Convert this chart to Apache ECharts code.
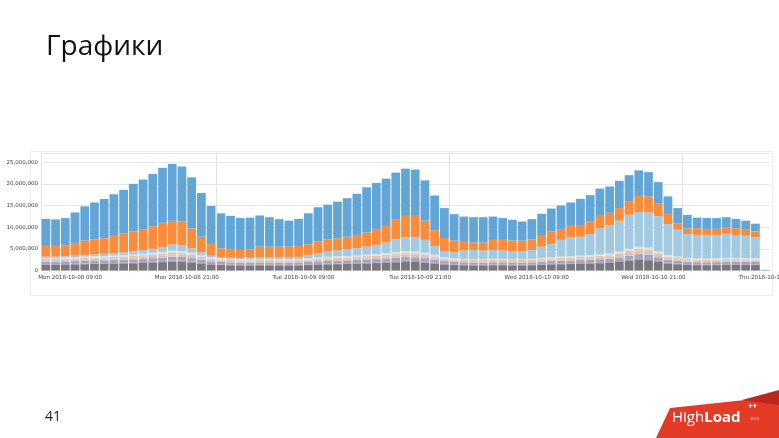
<!DOCTYPE html>
<html>
<head>
<meta charset="utf-8">
<script src="https://cdn.jsdelivr.net/npm/echarts@6/dist/echarts.min.js"></script>
<style>
html,body{margin:0;padding:0;background:#fff;}
#c{width:779px;height:438px;}
</style>
</head>
<body>
<div id="c"></div>
<script>
// Hours since Mon 2018-10-08 00:00 (each bar = one hour starting at that time)
const hours = [6,7,8,9,10,11,12,13,14,15,16,17,18,19,20,21,22,23,24,25,26,27,28,29,30,31,32,33,34,35,36,37,38,39,40,41,42,43,44,45,46,47,48,49,50,51,52,53,54,55,56,57,58,59,60,61,62,63,64,65,66,67,68,69,70,71,72,73,74,75,76,77,78,79,80];

// Values in millions
const greyDark = [1.3,1.3,1.35,1.4,1.45,1.5,1.52,1.56,1.62,1.67,1.76,1.85,1.94,2.07,2.03,1.85,1.58,1.35,1.26,1.2,1.17,1.17,1.19,1.19,1.17,1.17,1.19,1.26,1.35,1.42,1.46,1.51,1.58,1.64,1.71,1.8,1.91,2.0,1.98,1.85,1.62,1.4,1.26,1.22,1.19,1.19,1.22,1.22,1.19,1.19,1.22,1.3,1.4,1.44,1.49,1.55,1.6,1.69,1.76,1.98,2.25,2.45,2.38,1.98,1.62,1.44,1.3,1.24,1.22,1.24,1.3,1.3,1.28,1.26,0];
const purple = [.15,.15,.15,.15,.15,.15,.15,.16,.16,.17,.17,.18,.18,.2,.2,.18,.16,.15,.14,.13,.13,.13,.13,.13,.13,.13,.13,.14,.15,.15,.16,.16,.16,.17,.17,.18,.19,.2,.2,.18,.16,.15,.14,.13,.13,.13,.13,.13,.13,.13,.13,.14,.15,.15,.15,.16,.16,.17,.17,.19,.2,.22,.21,.19,.16,.15,.14,.13,.13,.13,.14,.14,.14,.14,.15];
const lavender = [.6,.6,.6,.62,.64,.66,.67,.69,.72,.74,.78,.82,.86,.92,.9,.82,.7,.6,.56,.53,.52,.52,.53,.53,.52,.52,.53,.56,.6,.63,.65,.67,.7,.73,.76,.8,.85,.89,.88,.82,.72,.62,.56,.54,.53,.53,.54,.54,.53,.53,.54,.58,.62,.64,.66,.69,.71,.75,.78,.88,1.0,1.1,1.06,.88,.72,.64,.58,.55,.54,.55,.58,.58,.57,.56,0];
const lightGrey = [.35,.35,.36,.37,.38,.4,.4,.41,.43,.44,.47,.49,.52,.55,.54,.49,.42,.36,.34,.32,.31,.31,.32,.32,.31,.31,.32,.34,.36,.38,.39,.4,.42,.44,.46,.48,.51,.53,.53,.49,.43,.37,.34,.32,.32,.32,.32,.32,.32,.32,.32,.35,.37,.38,.4,.41,.43,.45,.47,.53,.6,.66,.64,.53,.43,.38,.35,.33,.32,.33,.35,.35,.34,.34,0];
const lightOrange = [.25,.25,.27,.28,.29,.3,.31,.32,.34,.34,.36,.38,.4,.43,.42,.38,.32,.27,.25,.24,.24,.24,.24,.24,.24,.24,.24,.25,.27,.28,.29,.3,.32,.33,.34,.36,.38,.4,.4,.37,.32,.28,.25,.24,.24,.24,.24,.24,.24,.24,.24,.26,.28,.29,.3,.31,.32,.34,.35,.4,.45,.5,.48,.4,.32,.29,.26,.25,.24,.25,.26,.26,.26,.25,0];
const paleBlue = [.25,.25,.27,.28,.29,.29,.3,.31,.33,.34,.36,.38,.4,.43,.41,.38,.32,.27,.25,.23,.23,.23,.24,.24,.23,.23,.24,.25,.27,.29,.3,.31,.32,.34,.36,.38,.41,.43,.41,.39,.35,.28,.25,.25,.24,.24,.25,.25,.24,.24,.25,.27,.28,.3,.3,.33,.33,.35,.37,.42,.5,.57,.53,.42,.35,.3,.27,.25,.25,.25,.27,.27,.26,.25,0];
const lightBlue = [.3,.3,.3,.35,.4,.45,.5,.55,.6,.7,.8,.9,1.1,1.4,1.3,1.0,.7,.4,.3,.3,.3,.35,.45,.45,.5,.5,.5,.8,.97,1.21,1.35,1.55,1.63,1.85,2.1,2.44,2.95,3.23,3.28,2.96,2.0,1.4,1.4,1.9,2.1,1.95,2.05,1.9,1.85,1.71,2.05,2.6,3.03,3.86,4.38,4.35,4.85,5.95,6.55,7.1,7.85,8.0,8.1,8.1,7.1,6.2,5.5,5.45,5.5,5.45,5.55,5.3,5.15,4.9,0];
const orange = [2.47,2.47,2.53,2.92,3.3,3.45,3.6,4.0,4.4,4.65,4.85,5.2,5.6,5.45,5.5,4.6,3.6,2.7,2.03,1.95,1.85,1.95,2.4,2.4,2.4,2.4,2.52,2.45,2.7,2.84,2.85,2.9,3.07,3.25,3.7,4.06,4.5,4.92,4.92,4.44,3.7,3.0,2.7,2.0,1.69,1.84,2.31,2.46,2.4,2.54,2.45,2.5,2.87,2.54,2.62,2.7,3.0,2.9,2.85,2.9,3.15,3.7,3.7,3.05,2.35,1.5,1.3,1.56,1.4,1.4,1.55,1.56,1.4,1.3,0];
const blue = [6.23,6.13,6.27,7.03,7.9,8.5,9.05,9.6,10.0,10.95,11.45,12.1,12.7,13.15,12.7,11.8,10.1,8.8,8.07,7.7,7.35,7.3,7.2,6.8,6.35,6.0,6.23,7.15,7.93,8.0,8.45,8.9,9.5,10.45,10.6,10.7,10.9,10.9,10.7,9.3,8.0,6.9,6.1,5.85,5.86,5.86,5.39,5.04,4.8,4.4,4.65,5.1,5.3,5.4,5.4,6.05,6.0,6.3,6.1,6.3,6.0,5.9,5.6,4.85,4.05,3.5,3.15,2.44,2.5,2.5,2.3,2.14,2.1,1.8,0];

const tickHours = [9,21,33,45,57,69,81];
const tickLabels = ['Mon 2018-10-08 09:00','Mon 2018-10-08 21:00','Tue 2018-10-09 09:00','Tue 2018-10-09 21:00','Wed 2018-10-10 09:00','Wed 2018-10-10 21:00','Thu 2018-10-11 09:00'];
const dayBoundaries = [24,48,72];

const layers = [
  {name:'a', data:greyDark, color:'#78787d'},
  {name:'b', data:purple, color:'#9a86c8'},
  {name:'c', data:lavender, color:'#a8a5b9'},
  {name:'d', data:lightGrey, color:'#cdc6d0'},
  {name:'e', data:lightOrange, color:'#f7c190'},
  {name:'f', data:paleBlue, color:'#d5e4f0'},
  {name:'g', data:lightBlue, color:'#a2cae3'},
  {name:'h', data:orange, color:'#fb8c3b'},
  {name:'i', data:blue, color:'#62a5d7'}
];

const chart = echarts.init(document.getElementById('c'), null, {renderer:'canvas'});
const series = layers.map(l => ({
  name: l.name,
  type: 'bar',
  stack: 'total',
  xAxisIndex: 0,
  barCategoryGap: '10%',
  itemStyle: {color: l.color},
  data: l.data
}));
// day boundary lines on the hour-valued axis
series.push({
  type: 'line', xAxisIndex: 1, data: [], silent: true,
  markLine: {
    silent: true, symbol: 'none', label: {show: false},
    lineStyle: {color: '#e3e3e3', width: 1, type: 'solid'},
    data: dayBoundaries.map(h => ({xAxis: h}))
  }
});

chart.setOption({
  animation: false,
  backgroundColor: '#ffffff',
  grid: {left: 41, right: 9, top: 153.5, bottom: 167.5, outerBoundsMode: 'none', containLabel: false},
  xAxis: [{
    type: 'category', data: hours, boundaryGap: true,
    axisLine: {show: false}, axisTick: {show: false}, splitLine: {show: false},
    axisLabel: {show: false}
  }, {
    type: 'value', min: 6, max: 81, position: 'bottom',
    axisLine: {show: false}, axisTick: {show: false}, splitLine: {show: false},
    axisLabel: {
      customValues: tickHours,
      formatter: v => tickLabels[tickHours.indexOf(Math.round(v))] || '',
      fontSize: 5.6, color: '#444', fontFamily: 'DejaVu Sans', margin: 4,
      hideOverlap: false
    }
  }],
  yAxis: {
    type: 'value', min: 0, max: 27, interval: 5,
    axisLine: {show: true, lineStyle: {color: '#e2e2e2'}},
    axisTick: {show: false},
    splitLine: {lineStyle: {color: '#e6e6e6'}},
    axisLabel: {
      formatter: v => (Math.round(v) % 5 === 0 && v <= 25) ? (Math.round(v) * 1000000).toLocaleString('en-US') : '',
      fontSize: 5.5, color: '#444', fontFamily: 'DejaVu Sans', margin: 3
    }
  },
  graphic: [
    {type: 'rect', shape: {x: 30.5, y: 151.5, width: 742, height: 144}, style: {fill: 'none', stroke: '#ececec', lineWidth: 1}, silent: true, z: -10},
    {type: 'text', x: 46, y: 47, style: {text: 'Графики', fontSize: 28, fontFamily: 'Open Sans', fill: '#111', verticalAlign: 'middle'}},
    {type: 'text', x: 45, y: 417, style: {text: '41', fontSize: 14, fontFamily: 'Open Sans', fill: '#222', verticalAlign: 'middle'}},
    {type: 'polygon', shape: {points: [[656,438],[670,408],[745,400],[779,396],[779,438]]}, style: {fill: '#e43b26'}},
    {type: 'polygon', shape: {points: [[742,400],[779,390],[779,405]]}, style: {fill: '#b9281a'}},
    {type: 'text', x: 672, y: 418, style: {
      text: '{a|High}{b|Load}', fill: '#fff', verticalAlign: 'middle',
      rich: {a: {fontSize: 15, fontFamily: 'Open Sans', fontWeight: 'normal', fill: '#fff'}, b: {fontSize: 15, fontFamily: 'Open Sans', fontWeight: 'bold', fill: '#fff'}}
    }},
    {type: 'text', x: 748, y: 407, style: {text: '++', fontSize: 8, fontWeight: 'bold', fontFamily: 'Open Sans', fill: '#fff', verticalAlign: 'middle'}},
    {type: 'text', x: 750, y: 419, style: {text: '2016', fontSize: 4, fontFamily: 'Open Sans', fill: '#fff', verticalAlign: 'middle'}}
  ],
  series: series
});
</script>
</body>
</html>
